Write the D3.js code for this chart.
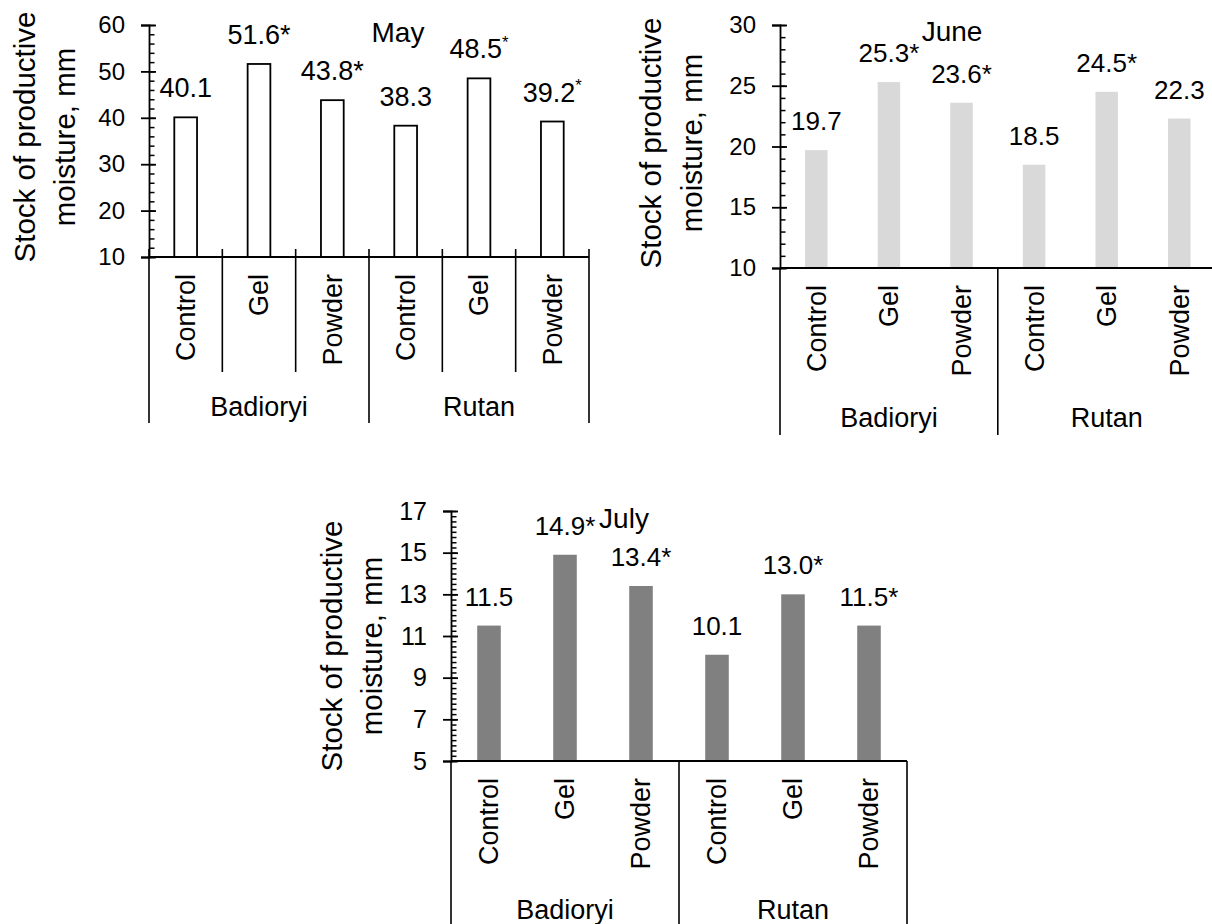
<!DOCTYPE html>
<html><head><meta charset="utf-8">
<script src="https://cdn.jsdelivr.net/npm/d3@7"></script>
<style>
body{margin:0;background:#fff}
svg{display:block}
text{font-family:Arial,"Liberation Sans",sans-serif;fill:#000}
</style>
</head><body>
<svg id="chart" width="1212" height="924"></svg>
<script>
// ---------------- data ----------------
const groups = ["Badioryi", "Rutan"];
const treatments = ["Control", "Gel", "Powder"];
const yTitleLines = ["Stock of productive", "moisture, mm"];

const mayValues  = [40.1, 51.6, 43.8, 38.3, 48.5, 39.2];
const mayMarks   = ["", "*", "*", "", "^", "^"];     // "*" asterisk, "^" superscript asterisk
const mayTicks   = [10, 20, 30, 40, 50, 60];

const juneValues = [19.7, 25.3, 23.6, 18.5, 24.5, 22.3];
const juneMarks  = ["", "*", "*", "", "*", ""];
const juneTicks  = [10, 15, 20, 25, 30];

const julyValues = [11.5, 14.9, 13.4, 10.1, 13.0, 11.5];
const julyMarks  = ["", "*", "*", "", "*", "*"];
const julyTicks  = [5, 7, 9, 11, 13, 15, 17];

// ---------------- drawing ----------------
const svg = d3.select("#chart");
const cats = groups.flatMap(g => treatments.map(t => g + "|" + t));
const fmt = d3.format(".1f");

function panel(o) {
  const g = svg.append("g");
  const x = d3.scaleBand().domain(cats).range([o.x0, o.x1]).padding(0);
  const y = d3.scaleLinear().domain([o.ticks[0], o.ticks[o.ticks.length - 1]]).range([o.yBot, o.yTop]);
  const bw = x.bandwidth() * 0.31;

  // bars
  g.selectAll("rect.bar").data(o.values).join("rect")
    .attr("class", "bar")
    .attr("x", (d, i) => x(cats[i]) + (x.bandwidth() - bw) / 2)
    .attr("width", bw)
    .attr("y", d => y(d))
    .attr("height", d => y(o.ticks[0]) - y(d))
    .attr("fill", o.fill)
    .attr("stroke", o.stroke || "none")
    .attr("stroke-width", o.stroke ? 1.8 : 0);

  // minor ticks (inside)
  const minor = d3.range(o.ticks[0], o.ticks[o.ticks.length - 1] + 1e-9, o.minorStep);
  const minorAxis = d3.axisRight(y).tickValues(minor).tickSize(5.5).tickSizeOuter(0).tickFormat("");
  const gm = g.append("g").attr("transform", `translate(${o.x0},0)`).call(minorAxis);
  gm.select(".domain").remove();
  gm.selectAll("line").attr("stroke", "#000").attr("stroke-width", 1.5);

  // major axis
  const axis = d3.axisLeft(y).tickValues(o.ticks).tickSizeOuter(0).tickSize(8).tickPadding(16).tickFormat(d3.format("d"));
  const ga = g.append("g").attr("transform", `translate(${o.x0},0)`).call(axis);
  ga.select(".domain").attr("stroke", "#000").attr("stroke-width", 1.8);
  ga.selectAll(".tick line").attr("x1", 7).attr("x2", -8).attr("stroke", "#000").attr("stroke-width", 1.8);
  ga.selectAll(".tick text").attr("font-size", o.tickFont).attr("font-family", "Arial, 'Liberation Sans', sans-serif").attr("fill", "#000");

  // x axis line
  g.append("line").attr("x1", o.x0).attr("x2", o.x1).attr("y1", o.yBot).attr("y2", o.yBot)
    .attr("stroke", "#000").attr("stroke-width", 1.8);

  // separators
  const bounds = d3.range(cats.length + 1).map(i => o.x0 + i * x.bandwidth());
  bounds.forEach((bx, i) => {
    const isGroup = i % treatments.length === 0;
    if (!isGroup && !o.inner) return;
    g.append("line").attr("x1", bx).attr("x2", bx)
      .attr("y1", o.cross ? o.yBot - 8 : o.yBot)
      .attr("y2", isGroup ? o.groupEnd : o.innerEnd)
      .attr("stroke", "#000").attr("stroke-width", 1.6);
  });

  // category labels
  g.selectAll("text.cat").data(cats).join("text")
    .attr("class", "cat")
    .attr("transform", d => `translate(${x(d) + x.bandwidth() / 2},${o.catTop}) rotate(-90)`)
    .attr("text-anchor", "end").attr("dy", "0.35em")
    .attr("font-size", o.catFont)
    .text(d => d.split("|")[1]);

  // group labels
  groups.forEach((gr, gi) => {
    const cx = o.x0 + (gi + 0.5) * treatments.length * x.bandwidth();
    g.append("text").attr("x", cx).attr("y", o.groupBase).attr("text-anchor", "middle")
      .attr("font-size", o.catFont).text(gr);
  });

  // data labels
  const lab = g.selectAll("text.val").data(o.values).join("text")
    .attr("class", "val")
    .attr("x", (d, i) => x(cats[i]) + x.bandwidth() / 2)
    .attr("y", d => y(d) - 20)
    .attr("text-anchor", "middle")
    .attr("font-size", o.valFont);
  lab.each(function (d, i) {
    const t = d3.select(this);
    t.append("tspan").text(fmt(d));
    const m = o.marks[i];
    if (m === "*") t.append("tspan").text("*");
    if (m === "^") t.append("tspan").attr("font-size", o.valFont * 0.62).attr("dy", -o.valFont * 0.38).text("*");
  });

  // title
  g.append("text").attr("x", o.titleX).attr("y", o.titleY).attr("text-anchor", "middle")
    .attr("font-size", o.titleFont).text(o.title);

  // y title
  yTitleLines.forEach((ln, li) => {
    g.append("text")
      .attr("transform", `translate(${o.yTitleX[li]},${o.yTitleY}) rotate(-90)`)
      .attr("text-anchor", "middle").attr("dy", "0.35em")
      .attr("font-size", o.yTitleFont).text(ln);
  });
}

panel({
  title: "May", values: mayValues, marks: mayMarks, ticks: mayTicks, minorStep: 2,
  x0: 149, x1: 589, yTop: 25, yBot: 257, inner: true, cross: true, innerEnd: 372, groupEnd: 423,
  catTop: 274, groupBase: 416, titleX: 398, titleY: 42, yTitleX: [25, 65], yTitleY: 137,
  fill: "#fff", stroke: "#000", tickFont: 24, valFont: 27, catFont: 27, titleFont: 28, yTitleFont: 29.5
});
panel({
  title: "June", values: juneValues, marks: juneMarks, ticks: juneTicks, minorStep: 1,
  x0: 780, x1: 1215.6, yTop: 25, yBot: 268, inner: false, cross: false, groupEnd: 435,
  catTop: 285, groupBase: 427, titleX: 952, titleY: 41, yTitleX: [651, 692], yTitleY: 143,
  fill: "#d9d9d9", tickFont: 24, valFont: 26, catFont: 27, titleFont: 28, yTitleFont: 29.5
});
panel({
  title: "July", values: julyValues, marks: julyMarks, ticks: julyTicks, minorStep: 0.25,
  x0: 451, x1: 907, yTop: 511, yBot: 761, inner: false, cross: false, groupEnd: 924,
  catTop: 778, groupBase: 919, titleX: 624, titleY: 528, yTitleX: [332, 372], yTitleY: 646,
  fill: "#808080", tickFont: 25, valFont: 26, catFont: 27, titleFont: 28, yTitleFont: 29.5
});
</script>
</body></html>
